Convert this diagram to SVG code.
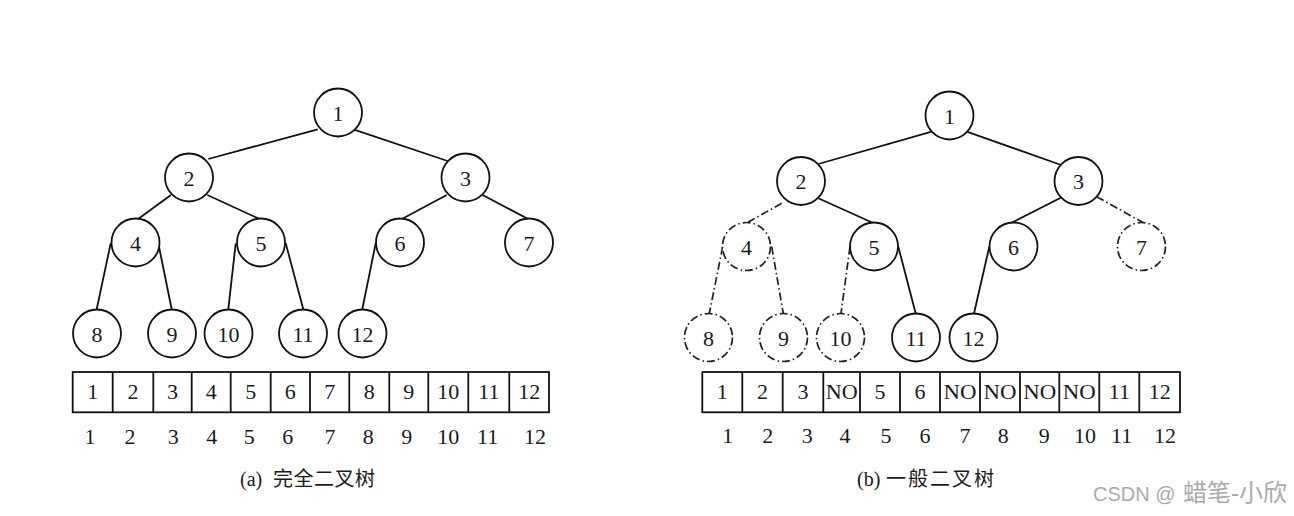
<svg xmlns="http://www.w3.org/2000/svg" width="1294" height="516" viewBox="0 0 1294 516">
<style>
.bg{fill:#fff}
.c{fill:#fff;stroke:#111;stroke-width:1.8}
.cd{fill:#fff;stroke:#222;stroke-width:1.7;stroke-dasharray:8 3 1.5 3}
.e{stroke:#111;stroke-width:1.8;fill:none}
.ed{stroke:#222;stroke-width:1.7;fill:none;stroke-dasharray:8 3 1.5 3}
.t{font-family:"Liberation Serif","Times New Roman",serif;font-size:22px;fill:#1a1a1a;text-anchor:middle}
.box{fill:#fff;stroke:#111;stroke-width:1.8}
.div{stroke:#111;stroke-width:1.8}
.cap{font-family:"Liberation Serif","Noto Sans CJK SC",serif;font-size:20px;fill:#1a1a1a}
.wm{font-family:"Liberation Sans","Noto Sans CJK SC",sans-serif;font-size:20px;fill:#aaa}
</style>
<rect class="bg" x="0" y="0" width="1294" height="516"/>

<g id="connectors">
  <!-- left tree -->
  <line class="e" x1="317.7" y1="129.3" x2="208.3" y2="159"/>
  <line class="e" x1="353.3" y1="129.3" x2="447.7" y2="161"/>
  <line class="e" x1="171" y1="195" x2="136.7" y2="220"/>
  <line class="e" x1="207.3" y1="195" x2="261.7" y2="220"/>
  <line class="e" x1="446.7" y1="195" x2="400" y2="220"/>
  <line class="e" x1="482.7" y1="195" x2="530" y2="220"/>
  <line class="e" x1="110.7" y1="243.3" x2="96.7" y2="309.3"/>
  <line class="e" x1="158.3" y1="243.3" x2="171.7" y2="309.3"/>
  <line class="e" x1="235.7" y1="243.3" x2="228.3" y2="309.3"/>
  <line class="e" x1="285.7" y1="243.3" x2="303.3" y2="309.3"/>
  <line class="e" x1="375.7" y1="243.3" x2="362.3" y2="309.3"/>
  <!-- right tree -->
  <line class="e" x1="931.7" y1="131.7" x2="818.3" y2="164"/>
  <line class="e" x1="966.7" y1="131.7" x2="1064" y2="166"/>
  <line class="ed" x1="781.7" y1="203.3" x2="748.3" y2="222"/>
  <line class="e" x1="818.3" y1="198.3" x2="872.7" y2="222.7"/>
  <line class="e" x1="1061.7" y1="197.3" x2="1011.7" y2="222.7"/>
  <line class="ed" x1="1096.7" y1="196.7" x2="1143.3" y2="222.7"/>
  <line class="ed" x1="722.7" y1="246.7" x2="709.3" y2="313.5"/>
  <line class="ed" x1="771.7" y1="246.7" x2="783.3" y2="313.5"/>
  <line class="ed" x1="850" y1="246.7" x2="841" y2="313.5"/>
  <line class="e" x1="898.3" y1="246.7" x2="915.7" y2="313.5"/>
  <line class="e" x1="989.3" y1="246.7" x2="974" y2="313.5"/>
</g>

<!-- left tree nodes -->
<g id="a1"><circle class="c" cx="338" cy="112.5" r="24"/><text class="t" x="338" y="120.5">1</text></g>
<g id="a2"><circle class="c" cx="189" cy="177.5" r="24"/><text class="t" x="189" y="185.5">2</text></g>
<g id="a3"><circle class="c" cx="465.5" cy="177.5" r="24"/><text class="t" x="465.5" y="185.5">3</text></g>
<g id="a4"><circle class="c" cx="135.5" cy="242.5" r="24"/><text class="t" x="135.5" y="250.5">4</text></g>
<g id="a5"><circle class="c" cx="261" cy="242.5" r="24"/><text class="t" x="261" y="250.5">5</text></g>
<g id="a6"><circle class="c" cx="400" cy="242.5" r="24"/><text class="t" x="400" y="250.5">6</text></g>
<g id="a7"><circle class="c" cx="529" cy="242.5" r="24"/><text class="t" x="529" y="250.5">7</text></g>
<g id="a8"><circle class="c" cx="97" cy="333.5" r="24"/><text class="t" x="97" y="341.5">8</text></g>
<g id="a9"><circle class="c" cx="172" cy="333.5" r="24"/><text class="t" x="172" y="341.5">9</text></g>
<g id="a10"><circle class="c" cx="228.5" cy="333.5" r="24"/><text class="t" x="228.5" y="341.5">10</text></g>
<g id="a11"><circle class="c" cx="303" cy="333.5" r="24"/><text class="t" x="303" y="341.5">11</text></g>
<g id="a12"><circle class="c" cx="362.5" cy="333.5" r="24"/><text class="t" x="362.5" y="341.5">12</text></g>

<!-- right tree nodes -->
<g id="b1"><circle class="c" cx="949.5" cy="115.5" r="24"/><text class="t" x="949.5" y="123.5">1</text></g>
<g id="b2"><circle class="c" cx="801" cy="181" r="24"/><text class="t" x="801" y="189">2</text></g>
<g id="b3"><circle class="c" cx="1078.5" cy="181" r="24"/><text class="t" x="1078.5" y="189">3</text></g>
<g id="b4"><circle class="cd" cx="746.5" cy="246.5" r="24"/><text class="t" x="746.5" y="254.5">4</text></g>
<g id="b5"><circle class="c" cx="874" cy="246.5" r="24"/><text class="t" x="874" y="254.5">5</text></g>
<g id="b6"><circle class="c" cx="1013.5" cy="246.5" r="24"/><text class="t" x="1013.5" y="254.5">6</text></g>
<g id="b7"><circle class="cd" cx="1141.5" cy="246.5" r="24"/><text class="t" x="1141.5" y="254.5">7</text></g>
<g id="b8"><circle class="cd" cx="708.5" cy="337.5" r="24"/><text class="t" x="708.5" y="345.5">8</text></g>
<g id="b9"><circle class="cd" cx="783.5" cy="337.5" r="24"/><text class="t" x="783.5" y="345.5">9</text></g>
<g id="b10"><circle class="cd" cx="840.5" cy="337.5" r="24"/><text class="t" x="840.5" y="345.5">10</text></g>
<g id="b11"><circle class="c" cx="916" cy="337.5" r="24"/><text class="t" x="916" y="345.5">11</text></g>
<g id="b12"><circle class="c" cx="973.5" cy="337.5" r="24"/><text class="t" x="973.5" y="345.5">12</text></g>

<!-- left array -->
<g id="arrayA">
  <rect class="box" x="72.7" y="372" width="476.3" height="40.3"/>
  <line class="div" x1="112.7" y1="372" x2="112.7" y2="412.3"/>
  <line class="div" x1="153.3" y1="372" x2="153.3" y2="412.3"/>
  <line class="div" x1="191.7" y1="372" x2="191.7" y2="412.3"/>
  <line class="div" x1="230.7" y1="372" x2="230.7" y2="412.3"/>
  <line class="div" x1="270.7" y1="372" x2="270.7" y2="412.3"/>
  <line class="div" x1="310" y1="372" x2="310" y2="412.3"/>
  <line class="div" x1="349.3" y1="372" x2="349.3" y2="412.3"/>
  <line class="div" x1="389.3" y1="372" x2="389.3" y2="412.3"/>
  <line class="div" x1="428.3" y1="372" x2="428.3" y2="412.3"/>
  <line class="div" x1="468.3" y1="372" x2="468.3" y2="412.3"/>
  <line class="div" x1="509.3" y1="372" x2="509.3" y2="412.3"/>
  <text class="t" x="92.7" y="399">1</text>
  <text class="t" x="133" y="399">2</text>
  <text class="t" x="172.5" y="399">3</text>
  <text class="t" x="211.2" y="399">4</text>
  <text class="t" x="250.7" y="399">5</text>
  <text class="t" x="290.3" y="399">6</text>
  <text class="t" x="329.7" y="399">7</text>
  <text class="t" x="369.3" y="399">8</text>
  <text class="t" x="408.8" y="399">9</text>
  <text class="t" x="448.3" y="399">10</text>
  <text class="t" x="488.8" y="399">11</text>
  <text class="t" x="529.2" y="399">12</text>
  <text class="t" x="90" y="444">1</text>
  <text class="t" x="130" y="444">2</text>
  <text class="t" x="173.3" y="444">3</text>
  <text class="t" x="211.7" y="444">4</text>
  <text class="t" x="249.3" y="444">5</text>
  <text class="t" x="287.7" y="444">6</text>
  <text class="t" x="330" y="444">7</text>
  <text class="t" x="368.3" y="444">8</text>
  <text class="t" x="406.7" y="444">9</text>
  <text class="t" x="448.3" y="444">10</text>
  <text class="t" x="487.7" y="444">11</text>
  <text class="t" x="535" y="444">12</text>
</g>

<!-- right array -->
<g id="arrayB">
  <rect class="box" x="702.3" y="372" width="477.7" height="40.3"/>
  <line class="div" x1="742.3" y1="372" x2="742.3" y2="412.3"/>
  <line class="div" x1="782.7" y1="372" x2="782.7" y2="412.3"/>
  <line class="div" x1="823.3" y1="372" x2="823.3" y2="412.3"/>
  <line class="div" x1="860" y1="372" x2="860" y2="412.3"/>
  <line class="div" x1="900" y1="372" x2="900" y2="412.3"/>
  <line class="div" x1="940" y1="372" x2="940" y2="412.3"/>
  <line class="div" x1="980" y1="372" x2="980" y2="412.3"/>
  <line class="div" x1="1020" y1="372" x2="1020" y2="412.3"/>
  <line class="div" x1="1059.3" y1="372" x2="1059.3" y2="412.3"/>
  <line class="div" x1="1099.3" y1="372" x2="1099.3" y2="412.3"/>
  <line class="div" x1="1139.3" y1="372" x2="1139.3" y2="412.3"/>
  <text class="t" x="722.3" y="399">1</text>
  <text class="t" x="762.5" y="399">2</text>
  <text class="t" x="803" y="399">3</text>
  <text class="t" x="841.7" y="399" textLength="32" lengthAdjust="spacingAndGlyphs">NO</text>
  <text class="t" x="880" y="399">5</text>
  <text class="t" x="920" y="399">6</text>
  <text class="t" x="960" y="399" textLength="33" lengthAdjust="spacingAndGlyphs">NO</text>
  <text class="t" x="1000" y="399" textLength="33" lengthAdjust="spacingAndGlyphs">NO</text>
  <text class="t" x="1039.7" y="399" textLength="33" lengthAdjust="spacingAndGlyphs">NO</text>
  <text class="t" x="1079.3" y="399" textLength="33" lengthAdjust="spacingAndGlyphs">NO</text>
  <text class="t" x="1119.3" y="399">11</text>
  <text class="t" x="1159.7" y="399">12</text>
  <text class="t" x="727.7" y="443">1</text>
  <text class="t" x="767.7" y="443">2</text>
  <text class="t" x="807.3" y="443">3</text>
  <text class="t" x="845" y="443">4</text>
  <text class="t" x="886" y="443">5</text>
  <text class="t" x="925" y="443">6</text>
  <text class="t" x="965" y="443">7</text>
  <text class="t" x="1003.3" y="443">8</text>
  <text class="t" x="1044.3" y="443">9</text>
  <text class="t" x="1085" y="443">10</text>
  <text class="t" x="1121.7" y="443">11</text>
  <text class="t" x="1165" y="443">12</text>
</g>

<g id="captions">
  <text class="cap" y="486"><tspan x="240">(a)</tspan><tspan x="273" style="font-family:'Noto Sans CJK SC',sans-serif;letter-spacing:0.5px">完全二叉树</tspan></text>
  <text class="cap" y="486"><tspan x="857">(b)</tspan><tspan x="886" style="font-family:'Noto Sans CJK SC',sans-serif;letter-spacing:2px">一般二叉树</tspan></text>
</g>

<text class="wm" x="1093" y="501">CSDN @<tspan x="1183" style="font-size:24px">蜡笔-小欣</tspan></text>
</svg>
